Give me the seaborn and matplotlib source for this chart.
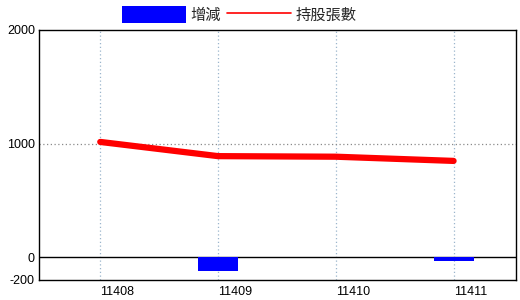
import numpy as np
import pandas as pd
import matplotlib
matplotlib.use("Agg")
import matplotlib.pyplot as plt
import seaborn as sns
from matplotlib.patches import Patch
from matplotlib.lines import Line2D

periods = ["11408", "11409", "11410", "11411"]
change = [0, -120, 0, -35]
holdings = [1015, 890, 885, 848]
yticks = [-200, 0, 1000, 2000]

sns.set_theme(style="white")
plt.rcParams['font.family'] = ['Liberation Sans', 'Noto Sans CJK TC', 'DejaVu Sans']

df = pd.DataFrame({"period": periods, "change": change, "holdings": holdings,
                   "pos": np.arange(len(periods))})

fig = plt.figure(figsize=(5.2, 3.0), dpi=100)
ax = fig.add_axes([39/520, 20/300, (516-39)/520, 250/300])

sns.barplot(data=df, x="period", y="change", color="#0000ff", saturation=1,
            width=0.34, ax=ax, zorder=3, linewidth=0, edgecolor="none")
sns.lineplot(data=df, x="pos", y="holdings", color="#ff0000", lw=4.5, ax=ax,
             zorder=4)

ax.set_xlim(-0.52, 3.53)
ax.set_ylim(-200, 2000)
ax.axhline(0, color="black", lw=1, zorder=2)

ax.set_xticks(np.arange(len(periods)) + 0.145)
ax.set_xticklabels(periods)
ax.grid(False)
for x in range(len(periods)):
    ax.axvline(x, color="#9bb5cc", lw=0.9, ls=(0, (1, 2)), zorder=1)
ax.axhline(1000, color="#8a8a8a", lw=0.9, ls=(0, (1, 2)), zorder=1)

ax.set_yticks(yticks)
ax.set_yticklabels([str(v) for v in yticks])
ax.tick_params(axis="both", which="both", length=0, labelsize=9, colors="black")
ax.tick_params(axis="y", pad=3)
ax.tick_params(axis="x", pad=4)
ax.set_xlabel("")
ax.set_ylabel("")
for s in ax.spines.values():
    s.set_color("black")
    s.set_linewidth(1)

handles = [Patch(facecolor="#0000ff", edgecolor="none"),
           Line2D([0], [0], color="#ff0000", lw=1.2)]
fig.legend(handles, ["增減", "持股張數"], loc="upper left",
           bbox_to_anchor=(108/520, 1.025), ncol=2, frameon=False,
           prop={"family": ["Noto Sans CJK TC"], "size": 11},
           handlelength=4.2, handleheight=1.35, handletextpad=0.3,
           columnspacing=0.4)

fig.savefig("out.png", dpi=100)
